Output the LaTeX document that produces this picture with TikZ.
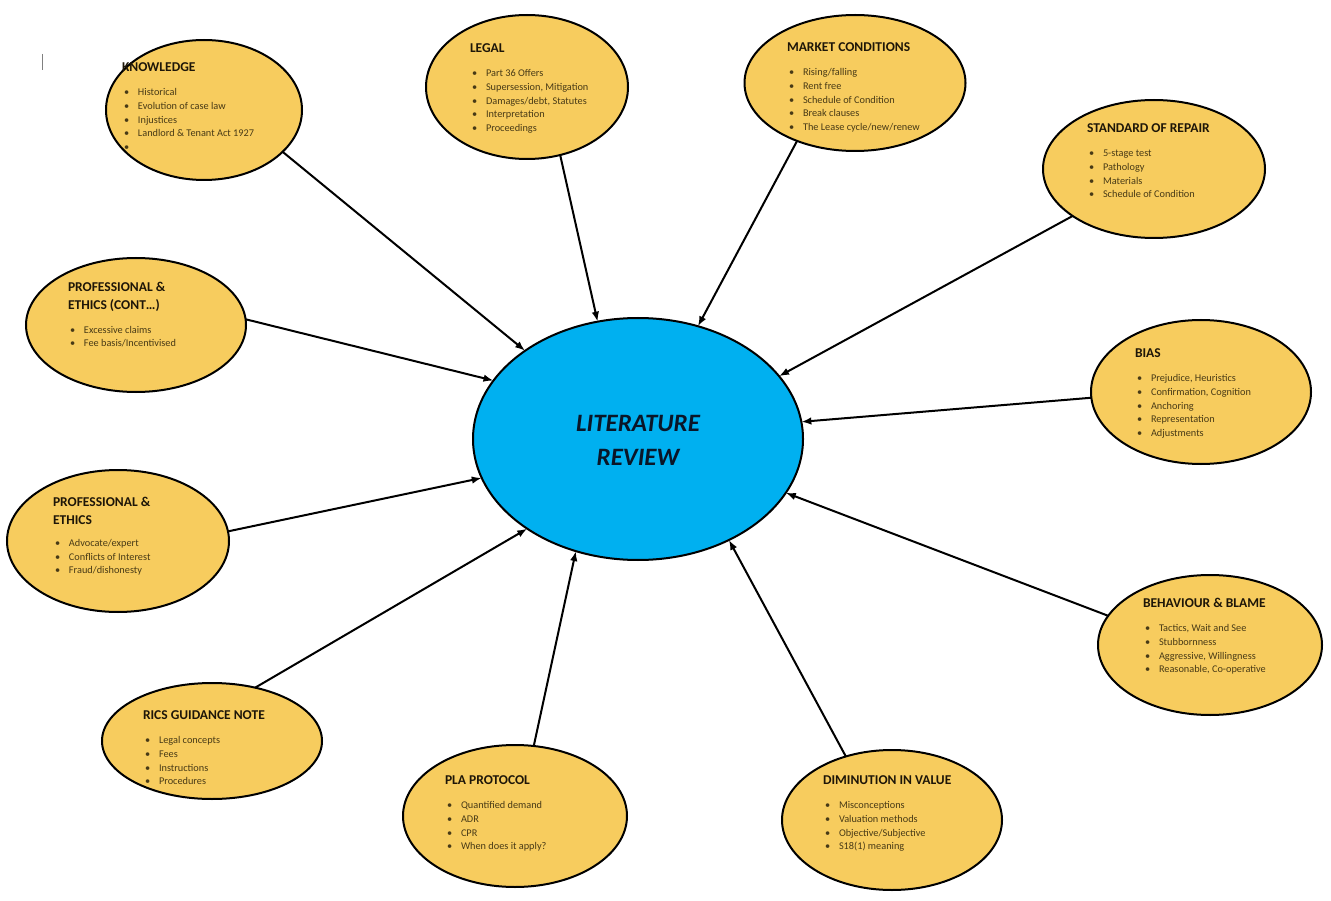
\documentclass[tikz,border=0pt]{standalone}
\usepackage{fontspec}
\setmainfont{Carlito}
\usetikzlibrary{shapes.geometric,arrows.meta}

\definecolor{topicfill}{RGB}{247,204,94}
\definecolor{hubfill}{RGB}{0,176,240}
\definecolor{itemcol}{RGB}{72,58,22}
\definecolor{titlecol}{RGB}{30,22,8}
\definecolor{hubtext}{RGB}{10,22,40}

% title line and bullet line of a topic bubble
\newcommand\ttl[1]{{\fontsize{13.5}{15}\selectfont\bfseries\color{titlecol}#1}}
\newcommand\itm[1]{\hspace*{2pt}\makebox[14pt][l]{\textbullet}#1}

\tikzset{
  topic/.style={ellipse, draw=black, line width=2pt, fill=topicfill, inner sep=0pt, outer sep=0pt},
  hub/.style={ellipse, draw=black, line width=2pt, fill=hubfill, inner sep=0pt, outer sep=0pt},
  txt/.style={anchor=base west, inner sep=0pt, outer sep=0pt, text=itemcol,
              font=\fontsize{10.3}{13.6}\selectfont},
  link/.style={-{Latex[length=10pt,width=7.5pt]}, line width=2pt, black}
}

\begin{document}
\begin{tikzpicture}[x=1pt,y=-1pt]
\useasboundingbox (0,0) rectangle (1331,901);
\fill[white] (0,0) rectangle (1331,901);

% small stray cursor mark near the top left
\draw[gray, line width=1.5pt] (42.5,54) -- (42.5,70);

% central hub
\node[hub, minimum width=330pt, minimum height=242pt] (lr) at (638,439) {};
\node[align=center, text=hubtext, font=\fontsize{25}{34}\selectfont\bfseries\itshape] (lrT) at (638,440) {LITERATURE\\REVIEW};

% topic bubbles
\node[topic, minimum width=196pt, minimum height=140pt] (know)  at (204,110) {};
\node[topic, minimum width=202pt, minimum height=144pt] (legal) at (527,87) {};
\node[topic, minimum width=221pt, minimum height=136pt] (market) at (855,83) {};
\node[topic, minimum width=222pt, minimum height=138pt] (repair) at (1154,169) {};
\node[topic, minimum width=220pt, minimum height=134pt] (profc) at (136,325) {};
\node[topic, minimum width=220pt, minimum height=144pt] (bias)  at (1201,392) {};
\node[topic, minimum width=222pt, minimum height=142pt] (prof)  at (118,541) {};
\node[topic, minimum width=224pt, minimum height=140pt] (behav) at (1210,645) {};
\node[topic, minimum width=220pt, minimum height=116pt] (rics)  at (212,741) {};
\node[topic, minimum width=224pt, minimum height=142pt] (pla)   at (515,816) {};
\node[topic, minimum width=220pt, minimum height=140pt] (dimin) at (892,820) {};

% bubble texts
\node[txt] (knowT) at (122,71.3) {\begin{tabular}[t]{@{}l@{}}\ttl{KNOWLEDGE}\\[11pt]
  \itm{Historical}\\ \itm{Evolution of case law}\\ \itm{Injustices}\\
  \itm{Landlord \& Tenant Act 1927}\\ \itm{}\end{tabular}};

\node[txt] (legalT) at (470,52.3) {\begin{tabular}[t]{@{}l@{}}\ttl{LEGAL}\\[11pt]
  \itm{Part 36 Offers}\\ \itm{Supersession, Mitigation}\\ \itm{Damages/debt, Statutes}\\
  \itm{Interpretation}\\ \itm{Proceedings}\end{tabular}};

\node[txt] (marketT) at (787,51.3) {\begin{tabular}[t]{@{}l@{}}\ttl{MARKET CONDITIONS}\\[11pt]
  \itm{Rising/falling}\\ \itm{Rent free}\\ \itm{Schedule of Condition}\\
  \itm{Break clauses}\\ \itm{The Lease cycle/new/renew}\end{tabular}};

\node[txt] (repairT) at (1087,132.3) {\begin{tabular}[t]{@{}l@{}}\ttl{STANDARD OF REPAIR}\\[11pt]
  \itm{5-stage test}\\ \itm{Pathology}\\ \itm{Materials}\\
  \itm{Schedule of Condition}\end{tabular}};

\node[txt] (profcT) at (68,292) {\begin{tabular}[t]{@{}l@{}}\ttl{PROFESSIONAL \&}\\[3.5pt]
  \ttl{ETHICS (CONT…)}\\[10pt]
  \itm{Excessive claims}\\ \itm{Fee basis/Incentivised}\end{tabular}};

\node[txt] (biasT) at (1135,357.3) {\begin{tabular}[t]{@{}l@{}}\ttl{BIAS}\\[11pt]
  \itm{Prejudice, Heuristics}\\ \itm{Confirmation, Cognition}\\ \itm{Anchoring}\\
  \itm{Representation}\\ \itm{Adjustments}\end{tabular}};

\node[txt] (profT) at (53,506) {\begin{tabular}[t]{@{}l@{}}\ttl{PROFESSIONAL \&}\\[4.5pt]
  \ttl{ETHICS}\\[9pt]
  \itm{Advocate/expert}\\ \itm{Conflicts of Interest}\\ \itm{Fraud/dishonesty}\end{tabular}};

\node[txt] (behavT) at (1143,607.3) {\begin{tabular}[t]{@{}l@{}}\ttl{BEHAVIOUR \& BLAME}\\[11pt]
  \itm{Tactics, Wait and See}\\ \itm{Stubbornness}\\ \itm{Aggressive, Willingness}\\
  \itm{Reasonable, Co-operative}\end{tabular}};

\node[txt] (ricsT) at (143,719.3) {\begin{tabular}[t]{@{}l@{}}\ttl{RICS GUIDANCE NOTE}\\[11pt]
  \itm{Legal concepts}\\ \itm{Fees}\\ \itm{Instructions}\\
  \itm{Procedures}\end{tabular}};

\node[txt] (plaT) at (445,784.3) {\begin{tabular}[t]{@{}l@{}}\ttl{PLA PROTOCOL}\\[11pt]
  \itm{Quantified demand}\\ \itm{ADR}\\ \itm{CPR}\\
  \itm{When does it apply?}\end{tabular}};

\node[txt] (diminT) at (823,784.3) {\begin{tabular}[t]{@{}l@{}}\ttl{DIMINUTION IN VALUE}\\[11pt]
  \itm{Misconceptions}\\ \itm{Valuation methods}\\ \itm{Objective/Subjective}\\
  \itm{S18(1) meaning}\end{tabular}};

% connectors into the hub
\draw[link] (know.-28)   -- (lr.142);
\draw[link] (legal.-64)  -- (lr.109.5);
\draw[link] (market.-135) -- (lr.62);
\draw[link] (repair.210.7) -- (lr.24.5);
\draw[link] (profc.3.6)  -- (lr.158.3);
\draw[link] (bias.183)   -- (lr.6.2);
\draw[link] (prof.5.7)   -- (lr.194.7);
\draw[link] (behav.164.6) -- (lr.-20.3);
\draw[link] (rics.51.6)  -- (lr.219.3);
\draw[link] (pla.75.8)   -- (lr.-119);
\draw[link] (dimin.126.2) -- (lr.-48.3);
\end{tikzpicture}
\end{document}
